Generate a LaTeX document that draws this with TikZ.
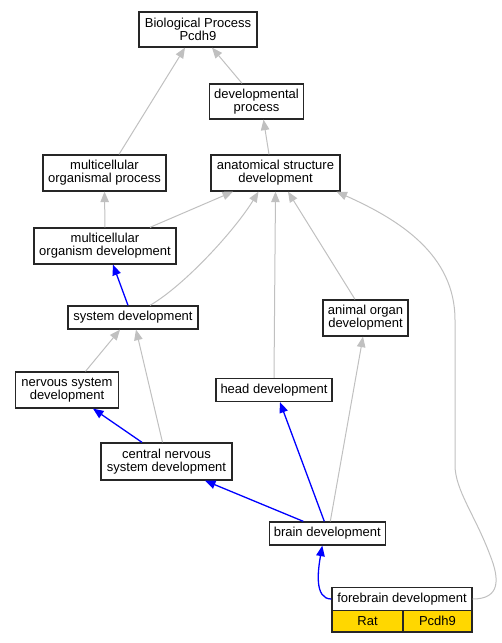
\documentclass[tikz,border=0pt]{standalone}
\usepackage{fontspec}
\setmainfont{Liberation Sans}
\usetikzlibrary{arrows.meta}
\definecolor{edgegray}{RGB}{192,192,192}
\definecolor{taxgold}{RGB}{255,215,0}

\begin{document}
\begin{tikzpicture}[x=1pt,y=-1pt]
\tikzstyle{term} = [rectangle, draw=black!85, line width=1.3pt, fill=white, inner sep=0pt, align=center, font=\fontsize{13}{13}\selectfont]
\tikzstyle{taxon} = [term, fill=taxgold, minimum height=21.5pt]
\tikzstyle{isa} = [draw=edgegray, line width=1pt, -{Triangle[length=10.5pt,width=8.5pt]}]
\tikzstyle{path} = [draw=blue, line width=1.3pt, -{Triangle[length=10.5pt,width=8.5pt]}]

\useasboundingbox (0,0) rectangle (502,643);

\node (bp) [term, minimum width=118pt, minimum height=35pt] at (198,29.5) {Biological Process\\Pcdh9};
\node (dev) [term, minimum width=94pt, minimum height=35pt] at (256.5,101.5) {developmental\\process};
\node (mop) [term, minimum width=123pt, minimum height=36pt] at (104.5,173) {multicellular\\organismal process};
\node (asd) [term, minimum width=129pt, minimum height=36pt] at (275.5,173) {anatomical structure\\development};
\node (mod) [term, minimum width=142pt, minimum height=36pt] at (105,246) {multicellular\\organism development};
\node (sd) [term, minimum width=130pt, minimum height=23pt] at (133,317.5) {system development};
\node (aod) [term, minimum width=85pt, minimum height=36pt] at (365.5,318) {animal organ\\development};
\node (nsd) [term, minimum width=103pt, minimum height=36pt] at (67,390) {nervous system\\development};
\node (hd) [term, minimum width=116pt, minimum height=23pt] at (274,390) {head development};
\node (cnsd) [term, minimum width=131pt, minimum height=37pt] at (166.5,461.5) {central nervous\\system development};
\node (brd) [term, minimum width=116pt, minimum height=23pt] at (327.3,533.5) {brain development};
\node (fbd) [term, minimum width=140pt, minimum height=23pt] at (402,599) {forebrain development};
\node (rat) [taxon, minimum width=71pt] at (367.5,621.3) {Rat};
\node (gene) [taxon, minimum width=69pt] at (437.5,621.3) {Pcdh9};

% is_a links
\draw [isa] ([xshift=-14.5pt]dev.north) -- ([xshift=14pt]bp.south);
\draw [isa] ([xshift=14.5pt]mop.north) -- ([xshift=-13pt]bp.south);
\draw [isa] ([xshift=-6.5pt]asd.north) -- ([xshift=7pt]dev.south);
\draw [isa] (mod.north) -- (mop.south);
\draw [isa] ([xshift=45pt]mod.north) -- ([xshift=-42.5pt]asd.south);
\draw [isa] ([xshift=17pt]sd.north) .. controls (185,285) and (235,230) .. ([xshift=-17pt]asd.south);
\draw [isa] ([xshift=-10.5pt]aod.north) -- ([xshift=12.5pt]asd.south);
\draw [isa] (hd.north) -- (asd.south);
\draw [isa] ([xshift=18.5pt]nsd.north) -- ([xshift=-13pt]sd.south);
\draw [isa] ([xshift=-4pt]cnsd.north) -- ([xshift=3pt]sd.south);
\draw [isa] ([xshift=3pt]brd.north) -- ([xshift=-2.5pt]aod.south);
\draw [isa] (fbd.east) .. controls (500,599) and (500,580) .. (490,555)
    .. controls (475,515) and (455,490) .. (455,465) -- (455,320)
    .. controls (455,255) and (400,220) .. (asd.-17);

% path to the root
\draw [path] ([xshift=-5pt]sd.north) -- ([xshift=8pt]mod.south);
\draw [path] ([xshift=-24.5pt]cnsd.north) -- ([xshift=26pt]nsd.south);
\draw [path] ([xshift=-3pt]brd.north) -- ([xshift=6pt]hd.south);
\draw [path] ([xshift=-24pt]brd.north) -- ([xshift=38.5pt]cnsd.south);
\draw [path] (fbd.west) .. controls (314,599) and (318,570) .. ([xshift=-5pt]brd.south);

\end{tikzpicture}
\end{document}
